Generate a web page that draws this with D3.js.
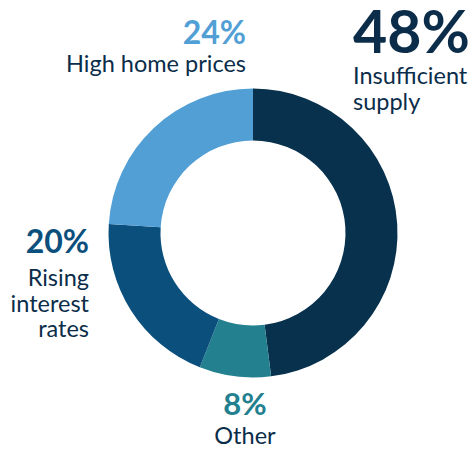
<!DOCTYPE html>
<html lang="en">

<body style="margin:0;background:#fff">
    <script src='https://d3js.org/d3.v7.min.js'></script>
    <script>

        const categories = ["Insufficient supply", "Other", "Rising interest rates", "High home prices"];
        const values = [48, 8, 20, 24];
        const colors = ["#08314d", "#23808f", "#0b4f7d", "#519fd5"];

        const width = 475;
        const height = 451;
        const cx = 253, cy = 233;
        const outerR = 144.5, innerR = 92.5;
        const font = "Lato, 'Open Sans', sans-serif";
        const textColor = "#0b2d4a";

        var svg = d3.select("body")
            .append("svg")
            .attr("width", width)
            .attr("height", height);

        var pie = d3.pie().sort(null).value(function (d) { return d; });
        var arc = d3.arc().innerRadius(innerR).outerRadius(outerR);

        svg.append("g")
            .attr("transform", "translate(" + cx + "," + cy + ")")
            .selectAll("path")
            .data(pie(values))
            .enter()
            .append("path")
            .attr("d", arc)
            .attr("fill", function (d, i) { return colors[i]; });

        // labels: percentage + wrapped category name
        const labels = [
            { x: 353, y: 53, anchor: "start", size: 59, lines: ["Insufficient", "supply"], ly: 84 },
            { x: 245, y: 415, anchor: "middle", size: 31, lines: ["Other"], ly: 444 },
            { x: 89, y: 253, anchor: "end", size: 32, lines: ["Rising", "interest", "rates"], ly: 286 },
            { x: 246, y: 44, anchor: "end", size: 32, lines: ["High home prices"], ly: 72 }
        ];

        var lg = svg.selectAll("g.label")
            .data(labels)
            .enter()
            .append("g")
            .attr("class", "label");

        lg.append("text")
            .attr("x", function (d) { return d.x; })
            .attr("y", function (d) { return d.y; })
            .attr("text-anchor", function (d) { return d.anchor; })
            .style("font-family", font)
            .style("font-weight", "bold")
            .style("font-size", function (d) { return d.size + "px"; })
            .attr("fill", function (d, i) { return i == 0 ? textColor : colors[i]; })
            .text(function (d, i) { return values[i] + "%"; });

        lg.append("text")
            .attr("text-anchor", function (d) { return d.anchor; })
            .style("font-family", font)
            .style("font-size", "23.5px")
            .attr("fill", textColor)
            .selectAll("tspan")
            .data(function (d) { return d.lines.map(function (l) { return { t: l, x: d.x, y: d.ly }; }); })
            .enter()
            .append("tspan")
            .attr("x", function (d) { return d.x; })
            .attr("y", function (d, i) { return d.y + i * 25.5; })
            .text(function (d) { return d.t; });

    </script>

</body>

</html>
